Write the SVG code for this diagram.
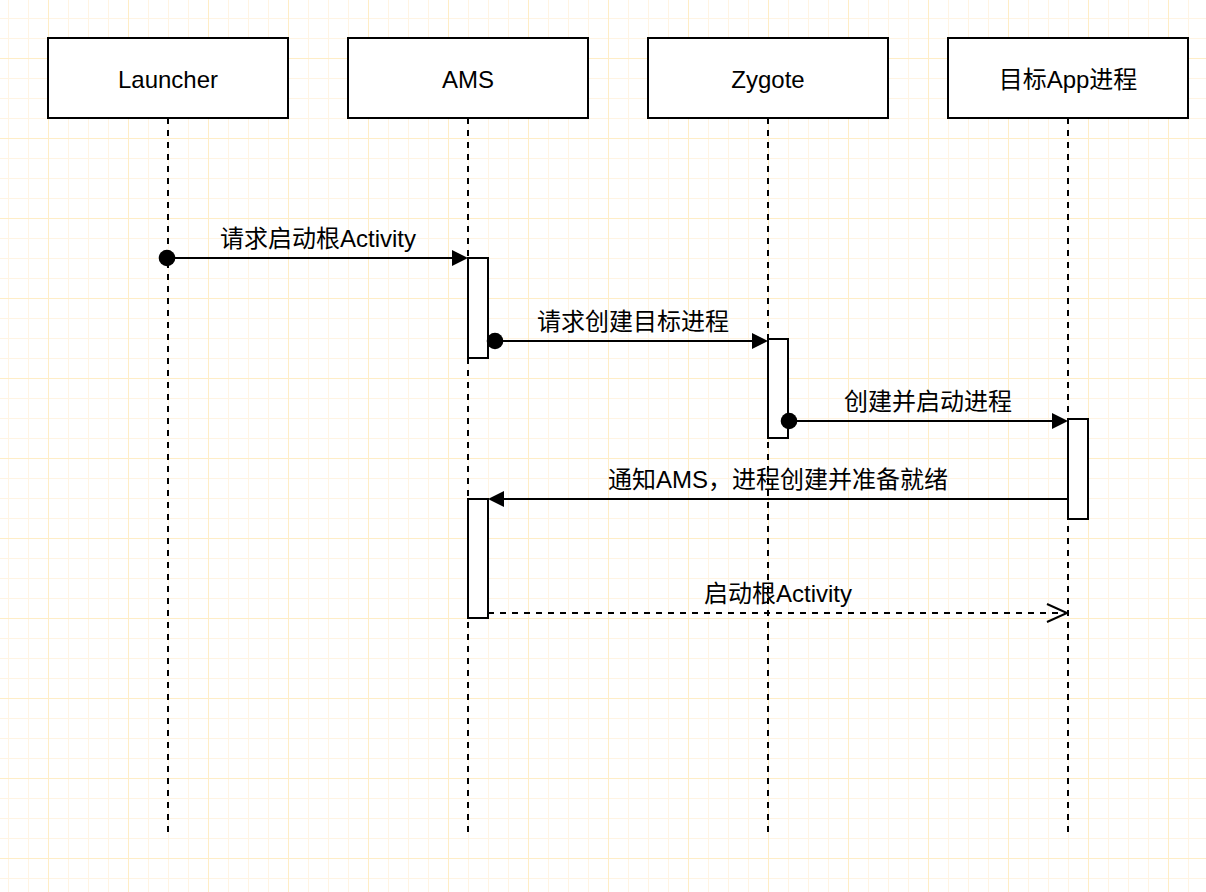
<svg xmlns="http://www.w3.org/2000/svg" width="1206" height="892" viewBox="0 0 1206 892">
  <style>
    .box { fill: #ffffff; stroke: #000000; stroke-width: 2; }
    .life { stroke: #000000; stroke-width: 2; stroke-dasharray: 6 6; fill: none; }
    .bar { fill: #ffffff; stroke: #000000; stroke-width: 2; }
    .msg { stroke: #000000; stroke-width: 2; fill: none; }
    .dash { stroke-dasharray: 6 6; }
    .t { font-family: "Liberation Sans", "Noto Sans CJK SC", sans-serif; font-size: 24px; fill: #000000; text-anchor: middle; }
  </style>
  <defs>
    <pattern id="grid" x="48" y="58" width="80" height="80" patternUnits="userSpaceOnUse">
      <rect x="20" y="0" width="1" height="80" fill="#fff4e3"/>
      <rect x="40" y="0" width="1" height="80" fill="#fff4e3"/>
      <rect x="60" y="0" width="1" height="80" fill="#fff4e3"/>
      <rect x="0" y="20" width="80" height="1" fill="#fff4e3"/>
      <rect x="0" y="40" width="80" height="1" fill="#fff4e3"/>
      <rect x="0" y="60" width="80" height="1" fill="#fff4e3"/>
      <rect x="0" y="0" width="1" height="80" fill="#ffedc6"/>
      <rect x="0" y="0" width="80" height="1" fill="#ffedc6"/>
    </pattern>
    <marker id="block" viewBox="0 0 16 16" refX="0" refY="8" markerWidth="16" markerHeight="16" markerUnits="userSpaceOnUse" orient="auto">
      <path d="M0,0 L16,8 L0,16 z" fill="#000000"/>
    </marker>
    <marker id="dot" viewBox="-9 -9 18 18" refX="0" refY="0" markerWidth="18" markerHeight="18" markerUnits="userSpaceOnUse" orient="auto">
      <circle cx="0" cy="0" r="8.3" fill="#000000"/>
    </marker>
    <marker id="open" viewBox="0 0 22 20" refX="21" refY="10" markerWidth="22" markerHeight="20" markerUnits="userSpaceOnUse" orient="auto" overflow="visible">
      <path d="M1,1 L21,10 L1,19" fill="none" stroke="#000000" stroke-width="2"/>
    </marker>
  </defs>

  <rect x="0" y="0" width="1206" height="892" fill="#ffffff"/>
  <rect x="0" y="0" width="1206" height="892" fill="url(#grid)"/>

  <g id="launcher">
    <line class="life" x1="168" y1="118" x2="168" y2="832"/>
    <rect class="box" x="48" y="38" width="240" height="80"/>
    <text class="t" x="168" y="88">Launcher</text>
  </g>
  <g id="ams">
    <line class="life" x1="468" y1="118" x2="468" y2="832"/>
    <rect class="box" x="348" y="38" width="240" height="80"/>
    <text class="t" x="468" y="88">AMS</text>
  </g>
  <g id="zygote">
    <line class="life" x1="768" y1="118" x2="768" y2="832"/>
    <rect class="box" x="648" y="38" width="240" height="80"/>
    <text class="t" x="768" y="88">Zygote</text>
  </g>
  <g id="app">
    <line class="life" x1="1068" y1="118" x2="1068" y2="832"/>
    <rect class="box" x="948" y="38" width="240" height="80"/>
    <text class="t" x="1068" y="88">目标App进程</text>
  </g>

  <g id="ams-act1"><rect class="bar" x="468" y="258" width="20" height="100"/></g>
  <g id="zygote-act"><rect class="bar" x="768" y="339" width="20" height="99"/></g>
  <g id="app-act"><rect class="bar" x="1068" y="419" width="20" height="100"/></g>
  <g id="ams-act2"><rect class="bar" x="468" y="499" width="20" height="119"/></g>

  <g id="connectors">
    <line class="msg" x1="167" y1="258" x2="452" y2="258" marker-start="url(#dot)" marker-end="url(#block)"/>
    <text class="t" x="318" y="247">请求启动根Activity</text>

    <line class="msg" x1="495" y1="341" x2="752" y2="341" marker-start="url(#dot)" marker-end="url(#block)"/>
    <text class="t" x="633" y="330">请求创建目标进程</text>

    <line class="msg" x1="789" y1="421" x2="1052" y2="421" marker-start="url(#dot)" marker-end="url(#block)"/>
    <text class="t" x="928" y="410">创建并启动进程</text>

    <line class="msg" x1="1068" y1="499" x2="504" y2="499" marker-end="url(#block)"/>
    <text class="t" x="778" y="488">通知AMS，进程创建并准备就绪</text>

    <line class="msg dash" x1="488" y1="613" x2="1067" y2="613" marker-end="url(#open)"/>
    <text class="t" x="778" y="602">启动根Activity</text>
  </g>
</svg>
